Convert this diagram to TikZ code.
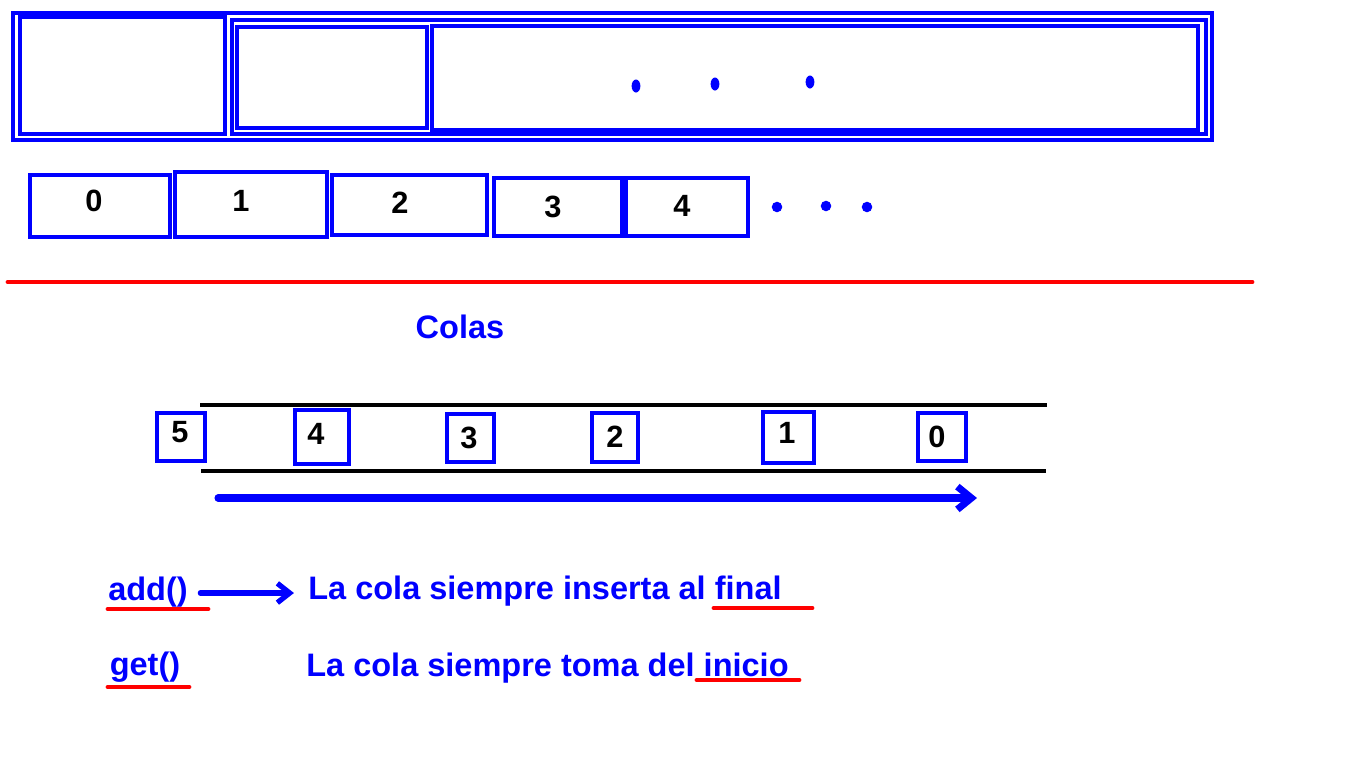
\documentclass[tikz,border=0pt]{standalone}
\usepackage{fontspec}
\setmainfont{Liberation Sans}
\usetikzlibrary{arrows.meta}

\tikzset{
  caja/.style={draw=blue, line width=1.8pt},
  num/.style={font=\fontsize{17.5}{20}\selectfont\bfseries, inner sep=0pt},
  texto/.style={text=blue, font=\fontsize{18.5}{21}\selectfont\bfseries, inner sep=0pt},
  subraya/.style={draw=red, line width=2.8pt, line cap=round},
  flecha/.style={draw=blue, line width=3pt, line cap=round, -{Straight Barb[length=7pt,width=11pt]}}
}

\begin{document}
\begin{tikzpicture}[x=0.02cm, y=-0.02cm]
        \useasboundingbox (0,0) rectangle (1366,768);

        % marco de arriba
        \draw[caja] (13,13) rectangle (1212,140);
        \draw[caja] (20,17) rectangle (225,134);
        \draw[caja] (232,20) rectangle (1206,134);
        \draw[caja] (237,27) rectangle (427,128);
        \draw[caja] (432,26) rectangle (1198,130);
        \foreach \x/\y in {636/86,715/84,810/82}
            \fill[blue] (\x,\y) ellipse [x radius=2.5pt, y radius=3.7pt];

        % arreglo
        \foreach \xa/\ya/\xb/\yb/\xn/\yn/\t in {30/175/170/237/94/201/0, 175/172/327/237/241/201/1,
            332/175/487/235/400/203/2, 494/178/622/236/553/207/3, 626/178/748/236/682/206/4}
            \draw[caja] (\xa,\ya) rectangle (\xb,\yb) (\xn,\yn) node[num] (c\t) {\t};
        \foreach \x/\y in {777/207,826/206,867/207}
            \fill[blue] (\x,\y) circle [radius=3pt];

        \draw[red, line width=2.8pt, line cap=round] (8,282) -- (1252,282);

        \node[texto] (colas) at (460,327) {Colas};

        % la cola
        \draw[line width=1.8pt] (200,405) -- (1047,405) (201,471) -- (1046,471);
        \foreach \xa/\ya/\xb/\yb/\xn/\yn/\t in {157/413/205/461/180/432/5, 295/410/349/464/316/434/4,
            447/414/494/462/469/438/3, 592/413/638/462/615/437/2, 763/412/814/463/787/433/1, 918/413/966/461/937/437/0}
            \draw[caja] (\xa,\ya) rectangle (\xb,\yb) (\xn,\yn) node[num] (q\t) {\t};

        \coordinate (ini) at (218,498);
        \coordinate (fin) at (977,498);
        \draw[flecha, line width=4pt, -{Straight Barb[length=8pt,width=13pt]}] (ini) -- (fin);

        % metodos
        \node[texto] (add) at (148,592) {add()};
        \node[texto, anchor=west] (inserta) at (308,591) {La cola siempre inserta al final};
        \node[texto] (get) at (145,667) {get()};
        \node[texto, anchor=west] (toma) at (306,668) {La cola siempre toma del inicio};

        \draw[flecha, shorten <=7pt, shorten >=8pt] (add.east |- 0,593) -- (inserta.west |- 0,593);

        \draw[subraya] (108,609) -- (208,609);
        \draw[subraya] (714,608) -- (812,608);
        \draw[subraya] (108,687) -- (189,687);
        \draw[subraya] (697,680) -- (799,680);

    \end{tikzpicture}
\end{document}
